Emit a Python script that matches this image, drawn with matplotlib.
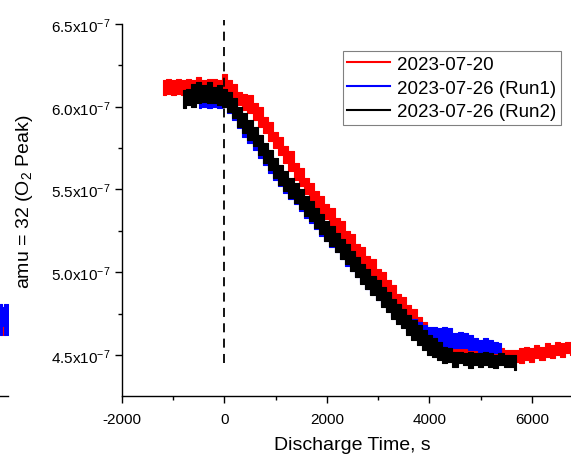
import numpy as np
import matplotlib
matplotlib.use('Agg')
import matplotlib.pyplot as plt
from matplotlib.lines import Line2D
from matplotlib.ticker import MultipleLocator, FuncFormatter

plt.rcParams['font.family'] = ['Liberation Sans', 'DejaVu Sans']
plt.rcParams['mathtext.fontset'] = 'custom'
plt.rcParams['mathtext.rm'] = 'Liberation Sans'
plt.rcParams['mathtext.it'] = 'Liberation Sans:italic'
plt.rcParams['axes.unicode_minus'] = False

# --- data (signal in units of 1e-7, time in s) ---
# 2023-07-20, sampled every 100 s from -1200 to 6800
red_t = np.arange(-1200, 6801, 100)
red_hi = [6.16, 6.17, 6.16, 6.17, 6.16, 6.17, 6.16, 6.18, 6.16, 6.17, 6.17, 6.16, 6.20,
          6.16, 6.14, 6.09, 6.08, 6.07, 6.02, 6.00, 5.94, 5.91, 5.85, 5.82, 5.76, 5.73,
          5.66, 5.63, 5.57, 5.54, 5.49, 5.46, 5.41, 5.39, 5.33, 5.31, 5.25, 5.23, 5.17,
          5.15, 5.10, 5.08, 5.02, 5.00, 4.95, 4.92, 4.87, 4.85, 4.80, 4.78, 4.73, 4.70,
          4.65, 4.61, 4.58, 4.56, 4.55, 4.54, 4.55, 4.54, 4.54, 4.55, 4.54, 4.54, 4.55,
          4.54, 4.54, 4.53, 4.53, 4.53, 4.54, 4.55, 4.54, 4.56, 4.55, 4.57, 4.56, 4.58,
          4.57, 4.58, 4.58]
red_lo = [6.07, 6.08, 6.07, 6.08, 6.07, 6.08, 6.07, 6.07, 6.08, 6.07, 6.08, 6.07, 6.07,
          6.06, 6.03, 6.01, 5.98, 5.96, 5.92, 5.88, 5.84, 5.79, 5.75, 5.71, 5.66, 5.61,
          5.56, 5.52, 5.47, 5.43, 5.39, 5.35, 5.32, 5.28, 5.24, 5.20, 5.16, 5.12, 5.08,
          5.04, 5.01, 4.97, 4.93, 4.90, 4.86, 4.82, 4.79, 4.75, 4.72, 4.68, 4.65, 4.61,
          4.57, 4.53, 4.50, 4.49, 4.48, 4.48, 4.48, 4.48, 4.48, 4.48, 4.48, 4.48, 4.48,
          4.48, 4.48, 4.48, 4.48, 4.46, 4.45, 4.47, 4.46, 4.48, 4.47, 4.49, 4.48, 4.50,
          4.49, 4.51, 4.50]

# 2023-07-26 (Run1), every 100 s from -500 to 5400
blue_t = np.arange(-500, 5401, 100)
blue_hi = [6.09, 6.10, 6.09, 6.10, 6.09, 6.10,
           6.06, 6.02, 5.98, 5.92, 5.88, 5.84, 5.79, 5.75, 5.70, 5.66, 5.62, 5.58, 5.54,
           5.51, 5.47, 5.43, 5.40, 5.36, 5.32, 5.29, 5.25, 5.22, 5.18, 5.14, 5.11, 5.07,
           5.04, 5.00, 4.97, 4.93, 4.90, 4.87, 4.83, 4.80, 4.77, 4.74, 4.72, 4.70, 4.68,
           4.67, 4.67, 4.66, 4.67, 4.66, 4.63, 4.64, 4.63, 4.62, 4.60, 4.59, 4.60, 4.59,
           4.58, 4.57]
blue_lo = [5.99, 6.00, 5.99, 6.00, 5.99, 6.00,
           5.96, 5.92, 5.87, 5.82, 5.78, 5.74, 5.69, 5.65, 5.60, 5.56, 5.52, 5.48, 5.44,
           5.41, 5.37, 5.33, 5.30, 5.26, 5.22, 5.19, 5.15, 5.12, 5.08, 5.04, 5.01, 4.97,
           4.94, 4.90, 4.87, 4.83, 4.80, 4.77, 4.73, 4.70, 4.67, 4.64, 4.62, 4.60, 4.58,
           4.57, 4.56, 4.56, 4.55, 4.55, 4.54, 4.54, 4.54, 4.53, 4.53, 4.52, 4.52, 4.52,
           4.51, 4.51]

# 2023-07-26 (Run2), every 100 s from -800 to 5700
black_t = np.arange(-800, 5701, 100)
black_hi = [6.10, 6.11, 6.14, 6.15, 6.13, 6.15, 6.12, 6.13, 6.11,
            6.09, 6.05, 6.00, 5.96, 5.92, 5.88, 5.83, 5.78, 5.74, 5.69, 5.65, 5.61, 5.57,
            5.54, 5.50, 5.46, 5.43, 5.39, 5.35, 5.31, 5.28, 5.24, 5.20, 5.17, 5.13, 5.09,
            5.05, 5.02, 4.98, 4.95, 4.91, 4.88, 4.84, 4.81, 4.78, 4.74, 4.71, 4.68, 4.65,
            4.62, 4.60, 4.58, 4.55, 4.54, 4.52, 4.52, 4.51, 4.52, 4.51, 4.51, 4.52, 4.51,
            4.50, 4.51, 4.50, 4.50, 4.50]
black_lo = [5.99, 6.01, 6.00, 6.02, 6.03, 6.02, 6.02, 6.01, 6.00,
            5.97, 5.93, 5.88, 5.84, 5.80, 5.76, 5.71, 5.66, 5.62, 5.57, 5.53, 5.49, 5.45,
            5.42, 5.38, 5.34, 5.31, 5.27, 5.23, 5.19, 5.16, 5.12, 5.08, 5.05, 5.01, 4.97,
            4.93, 4.90, 4.86, 4.83, 4.79, 4.76, 4.72, 4.69, 4.66, 4.62, 4.59, 4.56, 4.53,
            4.50, 4.49, 4.47, 4.45, 4.46, 4.43, 4.45, 4.44, 4.42, 4.44, 4.43, 4.44, 4.43,
            4.42, 4.44, 4.43, 4.43, 4.41]

# right edge of the neighbouring panel that is cut off at the left
left_t = [0.93, 0.945, 0.96, 0.975, 0.99, 1.0]
left_hi = [4.80, 4.81, 4.79, 4.81, 4.80, 4.81]
left_lo = [4.63, 4.62, 4.64, 4.62, 4.63, 4.62]

labels = ['2023-07-20', '2023-07-26 (Run1)', '2023-07-26 (Run2)']
colors = ['#ff0000', '#0000ff', '#000000']

fig = plt.figure(figsize=(5.71, 4.56), dpi=100)
ax = fig.add_axes([122 / 571, 59 / 456, 461 / 571, 372 / 456])

# noisy traces drawn as a band between upper and lower envelope
for (t, hi, lo), c in zip([(red_t, red_hi, red_lo), (blue_t, blue_hi, blue_lo),
                           (black_t, black_hi, black_lo)], colors):
    ax.fill_between(t, lo, hi, step='mid', color=c, lw=0.8, edgecolor=c)

ymin, ymax = 4.252, 6.5
ax.set_xlim(-2000, 7000)
ax.set_ylim(ymin, ymax)
ax.axvline(0, ymin=(4.45 - ymin) / (ymax - ymin), ymax=1.01, color='black',
           lw=1.3, dashes=(5, 3.5), clip_on=False)

ax.xaxis.set_major_locator(MultipleLocator(2000))
ax.xaxis.set_minor_locator(MultipleLocator(1000))
ax.yaxis.set_major_locator(MultipleLocator(0.5))
ax.yaxis.set_minor_locator(MultipleLocator(0.25))
ax.yaxis.set_major_formatter(FuncFormatter(lambda v, p: f'{v:.1f}x10$^{{\\mathregular{{-7}}}}$'))

ax.tick_params(which='major', direction='out', length=5, width=1.0, labelsize=11, pad=3.5)
ax.tick_params(axis='x', which='major', pad=6.5)
ax.tick_params(which='minor', direction='out', length=3, width=1.0)
for s in ['top', 'right']:
    ax.spines[s].set_visible(False)
for s in ['left', 'bottom']:
    ax.spines[s].set_linewidth(1.0)

ax.set_xlabel('Discharge Time, s', fontsize=14, labelpad=7.5)
fig.text(25 / 571, 1 - 202 / 456, 'amu = 32 (O$_2$ Peak)', rotation=90,
         ha='center', va='center', fontsize=14)

handles = [Line2D([], [], color=c, lw=1.5) for c in colors]
leg = ax.legend(handles, labels, loc='upper right', bbox_to_anchor=(0.952, 0.927),
                borderaxespad=0, fontsize=13.5, handlelength=2.3, handletextpad=0.35,
                labelspacing=0.35, borderpad=0.25, fancybox=False, framealpha=1)
leg.get_frame().set_edgecolor('#808080')
leg.get_frame().set_linewidth(0.8)

# neighbouring panel, only its right end shows
ax0 = fig.add_axes([-0.2, 59 / 456, 0.2 + 8 / 571, 372 / 456])
ax0.fill_between(left_t, left_lo, left_hi, step='mid', color='#0000ff', lw=0.8)
ax0.plot([0.962, 0.962], [4.67, 4.62], color='#ff0000', lw=0.8)
ax0.set_xlim(0, 1)
ax0.set_ylim(ymin, ymax)
ax0.set_xticks([])
ax0.set_yticks([])
for s in ['top', 'right', 'left']:
    ax0.spines[s].set_visible(False)
ax0.spines['bottom'].set_linewidth(1.0)
ax0.patch.set_alpha(0)

fig.savefig('out.png', dpi=100)
